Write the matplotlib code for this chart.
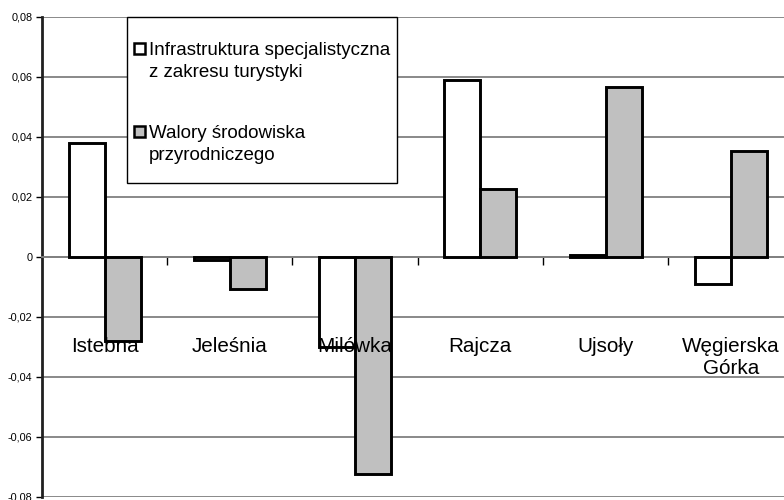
import numpy as np
import matplotlib.pyplot as plt
from matplotlib.patches import Rectangle
from matplotlib.ticker import FuncFormatter

plt.rcParams["font.family"] = ["Liberation Sans", "DejaVu Sans"]

# dane
gminy = ["Istebna", "Jeleśnia", "Milówka", "Rajcza", "Ujsoły", "Węgierska\nGórka"]
infrastruktura = [0.038, -0.001, -0.030, 0.059, 0.0006, -0.009]
walory = [-0.028, -0.0105, -0.0722, 0.0228, 0.0566, 0.0355]
serie = ["Infrastruktura specjalistyczna\nz zakresu turystyki",
         "Walory środowiska\nprzyrodniczego"]
kolory = ["white", "#c0c0c0"]
yticks = [-0.08, -0.06, -0.04, -0.02, 0, 0.02, 0.04, 0.06, 0.08]

W, H = 784, 500
fig = plt.figure(figsize=(W / 100, H / 100), dpi=100)
# osie wychodza poza prawa krawedz (jak w oryginale)
ax = fig.add_axes([42 / W, 3 / H, 751.5 / W, 480 / H])

x = np.arange(len(gminy)) + 0.5
w = 0.287
ax.bar(x - w / 2, infrastruktura, w, color=kolory[0], edgecolor="black",
       linewidth=2.1, zorder=3)
ax.bar(x + w / 2, walory, w, color=kolory[1], edgecolor="black",
       linewidth=2.1, zorder=3)

ax.set_xlim(0, len(gminy))
ax.set_ylim(-0.08, 0.08)
ax.set_yticks(yticks)
ax.yaxis.set_major_formatter(FuncFormatter(
    lambda v, p: "0" if abs(v) < 1e-9 else ("%.2f" % v).replace(".", ",")))
ax.tick_params(axis="y", direction="out", length=4, width=1, pad=3,
               labelsize=7.8, colors="black")
ax.grid(axis="y", color="#808080", linewidth=1.3, zorder=0)

# os kategorii przy zerze
ax.spines["bottom"].set_position(("data", 0))
ax.spines["bottom"].set_color("#808080")
ax.spines["bottom"].set_linewidth(1.3)
ax.set_xticks(np.arange(1, len(gminy)))
ax.set_xticklabels([])
ax.tick_params(axis="x", direction="out", length=6, width=1, colors="black")
ax.spines["top"].set_visible(False)
ax.spines["right"].set_visible(False)
ax.spines["left"].set_linewidth(2)
ax.spines["left"].set_color("#202020")

for xi, g in zip(x, gminy):
    ax.text(xi, -0.0268, g, ha="center", va="top", fontsize=14.9,
            linespacing=1.2, zorder=5)

# legenda
def fx(px):
    return px / W

def fy(py):
    return 1 - py / H

fig.patches.append(Rectangle((fx(127), fy(183)), (397 - 127) / W, (183 - 17) / H,
                             transform=fig.transFigure, facecolor="white",
                             edgecolor="black", linewidth=1, zorder=10))
for k, (s, c) in enumerate(zip(serie, kolory)):
    y0 = 43 + k * 83
    fig.patches.append(Rectangle((fx(134), fy(y0 + 11)), 11 / W, 11 / H,
                                 transform=fig.transFigure, facecolor=c,
                                 edgecolor="black", linewidth=1.8, zorder=11))
    for j, line in enumerate(s.split("\n")):
        fig.text(fx(149), fy(y0 + 12 + j * 22), line, ha="left", va="baseline",
                 fontsize=13.5, zorder=12)

fig.savefig("out.png", dpi=100)
